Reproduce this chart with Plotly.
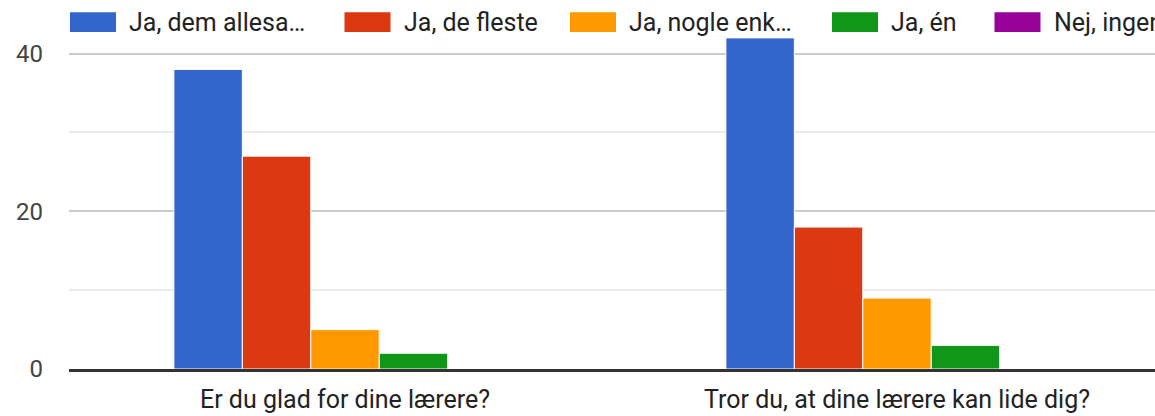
import plotly.graph_objects as go

categories = ["Er du glad for dine lærere?", "Tror du, at dine lærere kan lide dig?"]
series_names = ["Ja, dem allesammen", "Ja, de fleste", "Ja, nogle enkelte", "Ja, én", "Nej, ingen"]
legend_labels = ["Ja, dem allesa…", "Ja, de fleste", "Ja, nogle enk…", "Ja, én", "Nej, ingen"]
series_values = [
    [38, 42],
    [27, 18],
    [5, 9],
    [2, 3],
    [0, 0],
]
colors = ["#3366cc", "#dc3912", "#ff9900", "#109618", "#990099"]
y_ticks = [0, 20, 40]

# layout constants (pixels)
W, H = 1175, 416
ML, MR, MT, MB = 69, 2, 30, 44
PW = W - ML - MR
PH = H - MT - MB
FONT = "Roboto, Arial, sans-serif"

fig = go.Figure()
for name, vals, col in zip(series_names, series_values, colors):
    fig.add_trace(go.Bar(
        x=categories, y=vals, name=name,
        marker=dict(color=col, line=dict(color="white", width=1)),
        showlegend=False, hoverinfo="x+y+name",
    ))

# manual legend (Google-charts style wide swatches)
legend_swatch_x = [70, 344.5, 570, 832, 994.5]
sw_w, sw_top, sw_bot, txt_gap, txt_y = 46, 12, 32, 11, 22

def px_to_paper_x(px):
    return (px - ML) / PW

def px_to_paper_y(py):
    return (H - MB - py) / PH

shapes = []
annotations = []
for sx, lab, col in zip(legend_swatch_x, legend_labels, colors):
    shapes.append(dict(
        type="rect", xref="paper", yref="paper",
        x0=px_to_paper_x(sx), x1=px_to_paper_x(sx + sw_w),
        y0=px_to_paper_y(sw_bot), y1=px_to_paper_y(sw_top),
        fillcolor=col, line=dict(width=0),
    ))
    annotations.append(dict(
        xref="paper", yref="paper",
        x=px_to_paper_x(sx + sw_w + txt_gap), y=px_to_paper_y(txt_y),
        text=lab, showarrow=False, xanchor="left", yanchor="middle",
        font=dict(family=FONT, size=25, color="#222222"),
    ))

fig.update_layout(
    width=W, height=H,
    margin=dict(l=ML, r=MR, t=MT, b=MB, pad=0),
    paper_bgcolor="white", plot_bgcolor="white",
    barmode="group", bargap=0.38, bargroupgap=0,
    shapes=shapes, annotations=annotations,
    font=dict(family=FONT, size=24, color="#222222"),
    xaxis=dict(
        showgrid=False, showline=True, linecolor="#333333", linewidth=3,
        ticks="", tickfont=dict(family=FONT, size=25, color="#222222"),
        ticklabelstandoff=6, fixedrange=True,
    ),
    yaxis=dict(
        range=[0, 43], tickvals=y_ticks, showgrid=True, gridcolor="#cccccc", gridwidth=2,
        zeroline=False, ticks="", ticklabelstandoff=25,
        tickfont=dict(family=FONT, size=24, color="#444444"),
        minor=dict(dtick=10, showgrid=True, gridcolor="#ebebeb", gridwidth=2, ticks=""),
        fixedrange=True,
    ),
)

fig.write_html(
    "out.html",
    config={"displayModeBar": False},
    post_script="document.body.style.margin='0';document.body.style.overflow='hidden';",
)
